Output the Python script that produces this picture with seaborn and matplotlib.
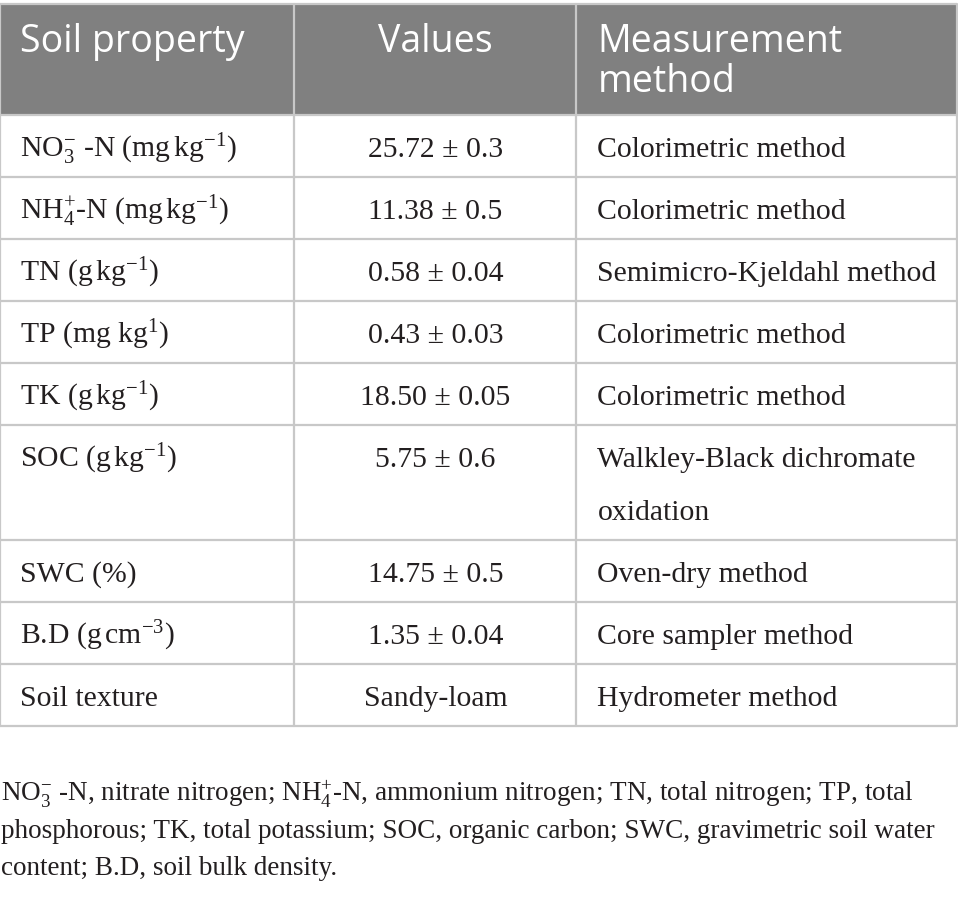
import matplotlib
matplotlib.use("Agg")
import matplotlib.pyplot as plt
import seaborn as sns

# table content
header = ["Soil property", "Values", "Measurement\nmethod"]
properties = [
    r"NO$_3^{-}$ -N (mg$\,$kg$^{-1}$)",
    r"NH$_4^{+}$-N (mg$\,$kg$^{-1}$)",
    r"TN (g$\,$kg$^{-1}$)",
    r"TP (mg kg$^{1}$)",
    r"TK (g$\,$kg$^{-1}$)",
    r"SOC (g$\,$kg$^{-1}$)",
    "SWC (%)",
    r"B.D (g$\,$cm$^{-3}$)",
    "Soil texture",
]
values = ["25.72 ± 0.3", "11.38 ± 0.5", "0.58 ± 0.04", "0.43 ± 0.03",
          "18.50 ± 0.05", "5.75 ± 0.6", "14.75 ± 0.5", "1.35 ± 0.04",
          "Sandy-loam"]
methods = ["Colorimetric method", "Colorimetric method",
           "Semimicro-Kjeldahl method", "Colorimetric method",
           "Colorimetric method", "Walkley-Black dichromate\noxidation",
           "Oven-dry method", "Core sampler method", "Hydrometer method"]
footnote = [
    r"NO$_3^{-}$ -N, nitrate nitrogen; NH$_4^{+}$-N, ammonium nitrogen; TN, total nitrogen; TP, total",
    "phosphorous; TK, total potassium; SOC, organic carbon; SWC, gravimetric soil water",
    "content; B.D, soil bulk density.",
]

sns.set_theme(style="white")
plt.rcParams["mathtext.fontset"] = "custom"
plt.rcParams["mathtext.rm"] = "Liberation Serif"
plt.rcParams["mathtext.it"] = "Liberation Serif:italic"
plt.rcParams["mathtext.default"] = "regular"

W, H = 958, 900
fig = plt.figure(figsize=(9.58, 9.0), dpi=100)
ax = fig.add_axes([0, 0, 1, 1])
ax.set_xlim(0, W)
ax.set_ylim(H, 0)
ax.axis("off")

col_x = [0, 294.5, 576.5, 957]
head_top, head_bot = 4, 114.5
line_h = 53
base_h = 62
grid_c = "#c8c8c8"
text_c = "#231f20"
serif = "Liberation Serif"
fs = 21.4

# header
ax.axhspan(head_top, head_bot, xmin=0, xmax=col_x[-1] / W, color="#808080", lw=0)
ax.text(col_x[0] + 20, 52, header[0], ha="left", va="baseline", color="white",
        fontsize=27, family="Open Sans")
ax.text((col_x[1] + col_x[2]) / 2, 52, header[1], ha="center", va="baseline",
        color="white", fontsize=27, family="Open Sans")
for k, part in enumerate(header[2].split("\n")):
    ax.text(col_x[2] + 21, 52 + k * 40, part, ha="left", va="baseline",
            color="white", fontsize=27, family="Open Sans")

# body rows
y = head_bot
row_edges = [head_top, y]
for prop, val, meth in zip(properties, values, methods):
    n = meth.count("\n") + 1
    h = base_h + (n - 1) * line_h
    by = y + 42.5
    ax.text(col_x[0] + 20, by, prop, ha="left", va="baseline", color=text_c,
            fontsize=fs, family=serif)
    ax.text((col_x[1] + col_x[2]) / 2, by, val, ha="center",
            va="baseline", color=text_c, fontsize=fs, family=serif)
    for k, part in enumerate(meth.split("\n")):
        ax.text(col_x[2] + 21, by + k * line_h, part, ha="left", va="baseline",
                color=text_c, fontsize=fs, family=serif)
    y += h
    row_edges.append(y)

for e in row_edges:
    ax.plot([0, col_x[-1]], [e, e], color=grid_c, lw=1.6, solid_capstyle="butt")
for cx in col_x:
    ax.plot([cx, cx], [head_top, row_edges[-1]], color=grid_c, lw=1.6)

# footnote
for k, line in enumerate(footnote):
    ax.text(1, 802 + k * 36.5, line, ha="left", va="baseline", color=text_c,
            fontsize=19.5, family=serif)

fig.savefig("out.png", dpi=100)
